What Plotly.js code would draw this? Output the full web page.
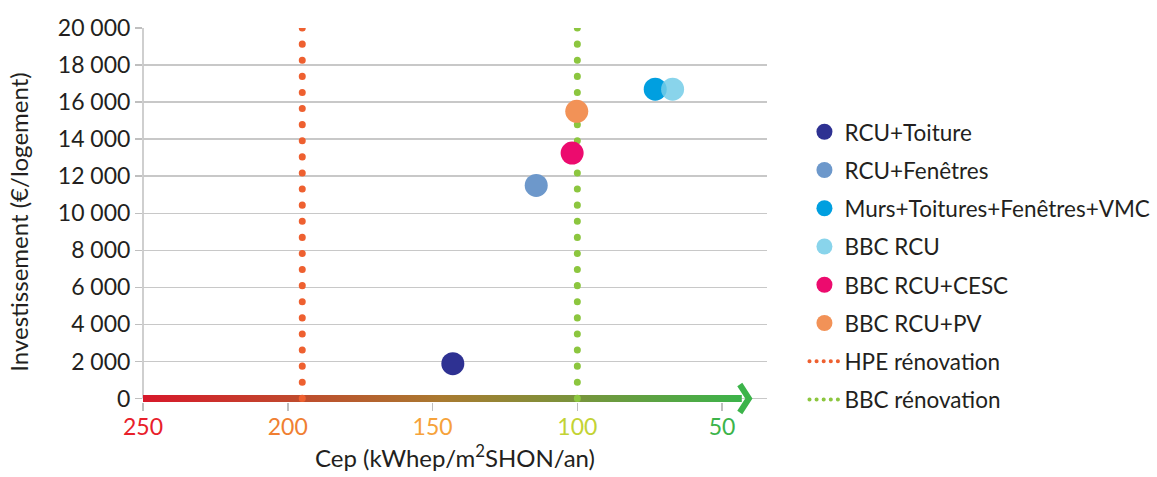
<!DOCTYPE html>
<html>
<head>
<meta charset="utf-8">
<script src="https://cdn.plot.ly/plotly-3.0.1.min.js"></script>
<style>
  html, body { margin: 0; padding: 0; background: #ffffff; }
  #chart { width: 1157px; height: 477px; }
  .scatterlayer .js-line { stroke-linecap: round; }
  .legend .js-line { stroke-width: 4px !important; stroke-dasharray: 0.1px, 7px !important; stroke-linecap: round; }
</style>
</head>
<body>
<div id="chart"></div>
<script>
// ---- Data ----
const scenarios = ['RCU+Toiture', 'RCU+Fenêtres', 'Murs+Toitures+Fenêtres+VMC', 'BBC RCU', 'BBC RCU+CESC', 'BBC RCU+PV'];
const cep = [143, 114.2, 73.1, 67.1, 101.8, 100.2];          // kWhep/m²SHON/an
const invest = [1880, 11500, 16700, 16700, 13250, 15500];   // €/logement
const scenarioColors = ['#2e3192', '#6d98cb', '#009fe0', '#74cde8', '#ec0b6e', '#f29257'];

const thresholdNames = ['HPE rénovation', 'BBC rénovation'];
const thresholdCep = [195, 100];
const thresholdColors = ['#ee6030', '#8cc63f'];

const xTickVals = [250, 200, 150, 100, 50];
const xTickColors = ['#e8202a', '#f07f32', '#f6a23a', '#c3d334', '#3cb44a'];
const yTickVals = [0, 2000, 4000, 6000, 8000, 10000, 12000, 14000, 16000, 18000, 20000];

const xRange = [250, 34.5];
const yRange = [-945, 20000];
const arrowEnd = 43.2;

// ---- Traces ----
const FONT = 'Lato, "Noto Sans", sans-serif';
const TXT = '#231f20';
const traces = [];

// gradient axis bar
traces.push({
  type: 'scatter', mode: 'lines', hoverinfo: 'skip', showlegend: false,
  x: [xRange[0], arrowEnd, arrowEnd, xRange[0], xRange[0]],
  y: [-190, -190, 190, 190, -190],
  line: { width: 0 },
  fill: 'toself',
  fillgradient: { type: 'horizontal', colorscale: [[0, '#d7182a'], [0.5, '#a97a30'], [1, '#3cb34a']] }
});

// threshold lines
thresholdNames.forEach((name, i) => {
  traces.push({
    type: 'scatter', mode: 'lines', name: name,
    x: [thresholdCep[i], thresholdCep[i]],
    y: [yTickVals[yTickVals.length - 1], 0],
    line: { color: thresholdColors[i], width: 7, dash: '0.1px,16px' },
    legendgroup: 'g' + (10 + i), legendrank: 10 + i
  });
});

// scenario points
scenarios.forEach((name, i) => {
  traces.push({
    type: 'scatter', mode: 'markers', name: name,
    x: [cep[i]], y: [invest[i]],
    marker: { color: scenarioColors[i], size: 23, opacity: name === 'BBC RCU' ? 0.85 : 1 },
    legendgroup: 'g' + i, legendrank: i + 1
  });
});

const layout = {
  width: 1157, height: 477,
  margin: { l: 143, r: 390, t: 28, b: 61, autoexpand: false },
  paper_bgcolor: '#ffffff', plot_bgcolor: '#ffffff',
  font: { family: FONT, color: TXT, size: 22 },
  separators: ', ',
  showlegend: true,
  legend: {
    x: 1.06, xanchor: 'left', y: 0.787, yanchor: 'top',
    font: { family: FONT, size: 22.5, color: TXT },
    traceorder: 'grouped', tracegroupgap: 6,
    bgcolor: 'rgba(0,0,0,0)'
  },
  xaxis: {
    range: xRange, autorange: false,
    anchor: 'free', position: 0.036,
    tickvals: xTickVals,
    ticktext: xTickVals.map((v, i) => '<span style="color:' + xTickColors[i] + '">' + v + '</span>'),
    ticks: 'outside', ticklen: 8, tickwidth: 1.5, tickcolor: '#bfbfbf',
    ticklabelstandoff: -4,
    tickfont: { family: FONT, size: 23 },
    showgrid: false, zeroline: false, showline: false,
    title: { text: 'Cep (kWhep/m<sup>2</sup>SHON/an)', font: { family: FONT, size: 24, color: TXT }, standoff: 10 }
  },
  yaxis: {
    range: yRange, autorange: false,
    tickvals: yTickVals, tickformat: ',',
    ticks: 'outside', ticklen: 7, tickwidth: 1.5, tickcolor: '#bfbfbf',
    tickfont: { family: FONT, size: 23, color: TXT },
    showgrid: true, gridcolor: '#c8c8c8', gridwidth: 1.5,
    zeroline: false, showline: false,
    title: { text: 'Investissement (€/logement)', font: { family: FONT, size: 24, color: TXT }, standoff: 22 }
  },
  shapes: [
    { type: 'line', xref: 'paper', yref: 'y', x0: 0, x1: 0, y0: 0, y1: yTickVals[yTickVals.length - 1],
      line: { color: '#bfbfbf', width: 1.5 }, layer: 'below' },
    { type: 'path', xref: 'x', yref: 'y',
      path: 'M 43.9,756 L 40.75,0 L 43.9,-756',
      line: { color: '#3cb44a', width: 6 }, layer: 'above' }
  ]
};

Plotly.newPlot('chart', traces, layout, { displayModeBar: false, staticPlot: true });
</script>
</body>
</html>
